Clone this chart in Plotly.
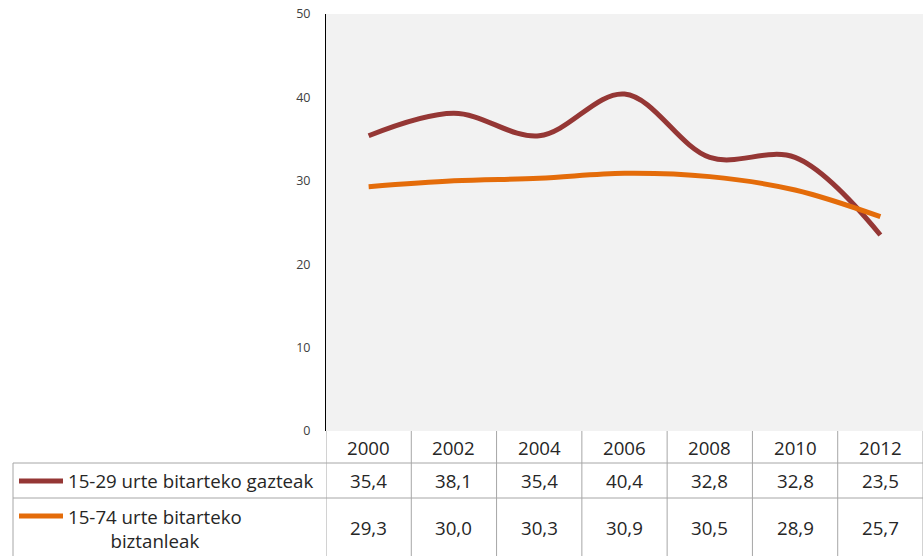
import plotly.graph_objects as go

years = ["2000", "2002", "2004", "2006", "2008", "2010", "2012"]
gazteak = [35.4, 38.1, 35.4, 40.4, 32.8, 32.8, 23.5]
biztanleak = [29.3, 30.0, 30.3, 30.9, 30.5, 28.9, 25.7]
series_names = ["15-29 urte bitarteko gazteak", "15-74 urte bitarteko<br>biztanleak"]
series_values = [gazteak, biztanleak]
colors = ["#953735", "#E46C0A"]

W, H = 923, 556
L, R, T, B = 326, 923, 14, 431  # plot area pixel bounds


def px(x):
    return (x - L) / (R - L)


def py(y):
    return (B - y) / (B - T)


xs = list(range(len(years)))
fig = go.Figure()
for name, vals, col in zip(series_names, series_values, colors):
    fig.add_trace(go.Scatter(
        x=xs, y=vals, mode="lines", name=name.replace("<br>", " "),
        line=dict(color=col, width=5, shape="spline", smoothing=1.0),
        showlegend=False,
    ))

font_fam = "'Open Sans', sans-serif"
txt_col = "#262626"
grid_col = "#a6a6a6"
fs = 18.7

shapes = []
annotations = []

# column boundaries in table
for i in range(len(years) + 1):
    shapes.append(dict(type="line", xref="x", yref="paper",
                       x0=i - 0.5, x1=i - 0.5, y0=py(B), y1=py(H + 2),
                       line=dict(color=grid_col, width=1)))
# horizontal row separators
for yline in [463, 498]:
    shapes.append(dict(type="line", xref="paper", yref="paper",
                       x0=px(13), x1=px(W + 2), y0=py(yline), y1=py(yline),
                       line=dict(color=grid_col, width=1)))
# left border of label column
shapes.append(dict(type="line", xref="paper", yref="paper",
                   x0=px(13), x1=px(13), y0=py(463), y1=py(H + 2),
                   line=dict(color=grid_col, width=1)))

# header years
for i, yr in enumerate(years):
    annotations.append(dict(xref="x", yref="paper", x=i, y=py(447),
                            text=yr, showarrow=False, xanchor="center", yanchor="middle",
                            font=dict(family=font_fam, size=fs, color=txt_col)))

row_centers = [481, 527]
label_centers = [481, 528]
for r, (name, vals, col) in enumerate(zip(series_names, series_values, colors)):
    yl = row_centers[r]
    sample_y = 481 if r == 0 else 516
    shapes.append(dict(type="line", xref="paper", yref="paper",
                       x0=px(19), x1=px(63), y0=py(sample_y), y1=py(sample_y),
                       line=dict(color=col, width=5)))
    annotations.append(dict(xref="paper", yref="paper", x=px(66), y=py(label_centers[r]),
                            text=name, showarrow=False, xanchor="left", yanchor="middle",
                            align="center",
                            font=dict(family=font_fam, size=fs, color=txt_col)))
    for i, v in enumerate(vals):
        annotations.append(dict(xref="x", yref="paper", x=i, y=py(yl),
                                text=f"{v:.1f}".replace(".", ","), showarrow=False,
                                xanchor="center", yanchor="middle",
                                font=dict(family=font_fam, size=fs, color=txt_col)))

fig.update_layout(
    width=W, height=H, autosize=False,
    margin=dict(l=L, r=W - R, t=T, b=H - B, pad=0),
    paper_bgcolor="white", plot_bgcolor="#f2f2f2",
    xaxis=dict(range=[-0.5, len(years) - 0.5], showticklabels=False, showgrid=False,
               zeroline=False, showline=False, ticks="", fixedrange=True),
    yaxis=dict(range=[0, 50], dtick=10, tick0=0, showgrid=False, zeroline=False,
               showline=True, linecolor="#000000", linewidth=1, ticks="",
               ticklabelstandoff=12,
               tickfont=dict(family=font_fam, size=12.5, color="#404040")),
    shapes=shapes, annotations=annotations,
)

fig.write_html("out.html", config={"displayModeBar": False},
               post_script="document.body.style.margin='0';document.body.style.overflow='hidden';")
